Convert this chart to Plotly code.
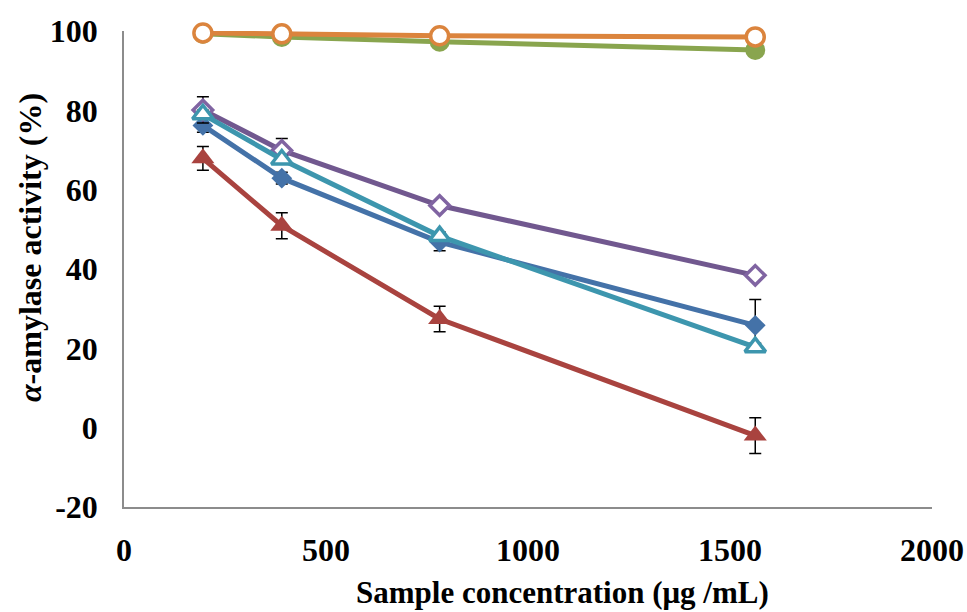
import plotly.graph_objects as go

conc = [195.3, 390.6, 781.25, 1562.5]

blue_y = [76.2, 62.9, 46.8, 25.8]
blue_err = [1.7, 1.5, 2.2, 6.5]
red_y = [67.9, 50.9, 27.4, -2.0]
red_err = [3.0, 3.3, 3.2, 4.5]
green_y = [99.3, 98.5, 97.3, 95.2]
green_err = [0.4, 0.4, 0.4, 0.4]
purple_y = [80.1, 69.9, 56.0, 38.4]
purple_err = [3.3, 3.0, 1.0, 1.0]
teal_y = [79.0, 67.6, 48.3, 20.3]
teal_err = [1.0, 1.0, 1.0, 1.0]
orange_y = [99.5, 99.3, 98.8, 98.5]
orange_err = [0.4, 0.4, 0.4, 0.4]

xticks = [0, 500, 1000, 1500, 2000]
yticks = [-20, 0, 20, 40, 60, 80, 100]

x_title = "Sample concentration (μg /mL)"
y_title = "<i>α</i>-amylase activity (%)"

FONT = "Liberation Serif"

series = [
    dict(y=blue_y, e=blue_err, color="#4472A8", symbol="diamond", size=16, fill="#4472A8", lw=0),
    dict(y=red_y, e=red_err, color="#A9433F", symbol="triangle-up", size=20, fill="#A9433F", lw=0),
    dict(y=green_y, e=green_err, color="#89A54E", symbol="circle", size=20, fill="#89A54E", lw=0),
    dict(y=purple_y, e=purple_err, color="#71588F", symbol="diamond", size=15, fill="white", lw=3.5, mc="#8064A2"),
    dict(y=teal_y, e=teal_err, color="#3D96AE", symbol="triangle-up", size=18, fill="white", lw=3.5),
    dict(y=orange_y, e=orange_err, color="#DB843D", symbol="circle", size=18, fill="white", lw=3.5),
]

fig = go.Figure()
for s in series:
    fig.add_trace(go.Scatter(
        x=conc, y=s["y"], mode="lines+markers",
        line=dict(color=s["color"], width=5),
        marker=dict(symbol=s["symbol"], size=s["size"], color=s["fill"],
                    line=dict(color=s.get("mc", s["color"]), width=s["lw"])),
        error_y=dict(type="data", array=s["e"], visible=True, color="black",
                     thickness=1.5, width=6),
        showlegend=False, cliponaxis=False,
    ))

fig.add_annotation(text="<b>" + x_title + "</b>", xref="paper", yref="paper",
                   x=0.543, y=-0.18, xanchor="center", yanchor="middle", showarrow=False,
                   font=dict(family=FONT, size=31, color="black"))
fig.add_annotation(text="<b>" + y_title + "</b>", xref="paper", yref="paper",
                   x=-0.1163, y=0.544, xanchor="center", yanchor="middle", showarrow=False,
                   textangle=-90, font=dict(family=FONT, size=32, color="black"))

fig.update_layout(
    width=967, height=612,
    margin=dict(l=124, r=35, t=31, b=105),
    paper_bgcolor="white", plot_bgcolor="white",
    font=dict(family=FONT, color="black"),
    xaxis=dict(
        range=[0, 2000], tickvals=xticks, ticktext=[str(v) for v in xticks],
        showgrid=False, zeroline=False, showline=True, linecolor="#8C8C8C", linewidth=1.5,
        ticks="", ticklabelstandoff=14, automargin=False,
        tickfont=dict(family=FONT, size=32, color="black", weight="bold"),
    ),
    yaxis=dict(
        range=[-20, 100], tickvals=yticks, ticktext=[str(v) for v in yticks],
        showgrid=False, zeroline=False, showline=True, linecolor="#8C8C8C", linewidth=1.5,
        ticks="", ticklabelstandoff=18, automargin=False,
        tickfont=dict(family=FONT, size=32, color="black", weight="bold"),
    ),
)

fig.write_html("out.html")
